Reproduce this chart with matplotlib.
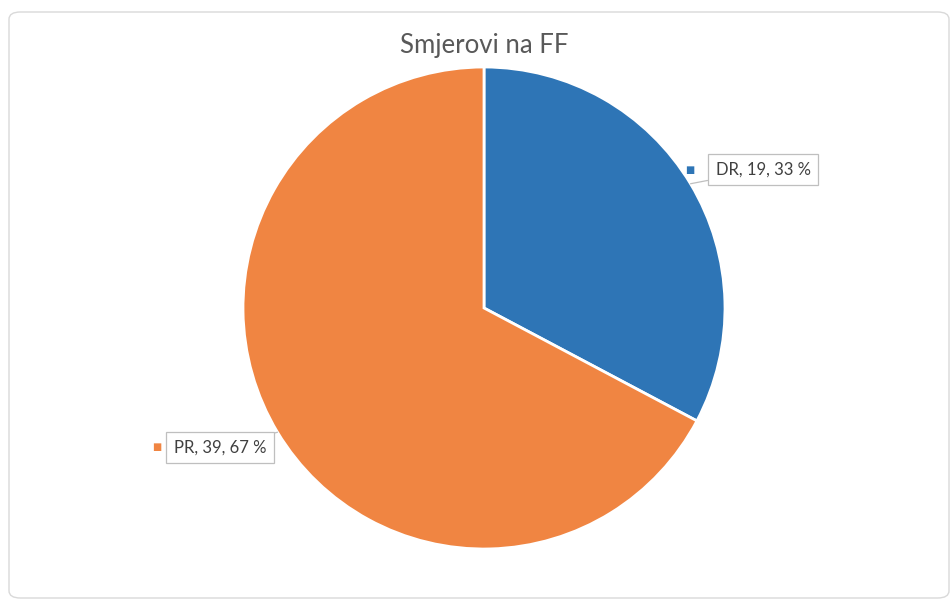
import numpy as np
import matplotlib.pyplot as plt
from matplotlib.patches import FancyBboxPatch

# data
categories = ["DR", "PR"]
counts = [19, 39]
colors = ["#2E75B6", "#F08542"]
title = "Smjerovi na FF"

plt.rcParams['font.family'] = ['Lato', 'DejaVu Sans']

fig = plt.figure(figsize=(9.51, 6.01), dpi=100, facecolor='white')

# rounded chart frame (behind the axes)
frame = FancyBboxPatch((9 / 951, 3 / 601), 940 / 951, 586 / 601,
                       boxstyle="round,pad=0,rounding_size=0.012",
                       transform=fig.transFigure, facecolor='white',
                       edgecolor='#d9d9d9', linewidth=1.0, zorder=-5)
fig.patches.append(frame)

ax = fig.add_axes([243 / 951, (601 - 549) / 601, 482 / 951, 482 / 601])
ax.set_zorder(2)
wedges, _ = ax.pie(counts, colors=colors, startangle=90, counterclock=False,
                   wedgeprops=dict(edgecolor='white', linewidth=2))
ax.set_xlim(-1, 1)
ax.set_ylim(-1, 1)
ax.set_aspect('equal')
ax.axis('off')

fig.text(484 / 951, 1 - 45 / 601, title, ha='center', va='center',
         fontsize=18.5, color='#595959')

total = sum(counts)
# label offsets (pixels) relative to wedge edge midpoint
text_off = [(25, 14), (-11, -15)]
marker_off = [(-1, 14), (-121, -15)]
align = ['left', 'right']
for w, cat, n, col, toff, moff, ha in zip(wedges, categories, counts, colors,
                                          text_off, marker_off, align):
    ang = np.deg2rad((w.theta1 + w.theta2) / 2)
    xy = (np.cos(ang), np.sin(ang))
    pct = round(100 * n / total)
    ax.annotate(f"{cat}, {n}, {pct} %", xy=xy, xytext=toff,
                textcoords='offset pixels', ha=ha, va='center',
                fontsize=12, color='#404040', annotation_clip=False,
                bbox=dict(boxstyle='square,pad=0.45', facecolor='white',
                          edgecolor='#bfbfbf', linewidth=0.9),
                arrowprops=dict(arrowstyle='-', color='#bfbfbf', lw=0.9,
                                shrinkA=0, shrinkB=0))
    ax.annotate("■", xy=xy, xytext=moff, textcoords='offset pixels',
                ha='center', va='center', fontsize=7, color=col,
                family=['DejaVu Sans'], annotation_clip=False)

fig.savefig('out.png', dpi=100, facecolor='white')
